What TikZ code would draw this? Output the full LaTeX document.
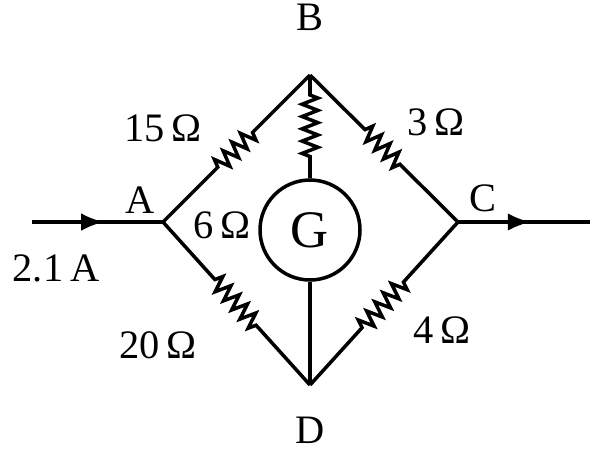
\documentclass[tikz,border=0pt]{standalone}
\usepackage{fontspec}
\setmainfont{Liberation Serif}
\usetikzlibrary{decorations.pathmorphing,decorations.markings,arrows.meta}
\tikzset{
  wire/.style={line width=2pt},
  res/.style={wire,decorate,decoration={zigzag,amplitude=4.5pt,segment length=7pt,
     pre length=#1,post length=#1}},
  res/.default=1.55cm,
  flow/.style={wire,postaction={decorate},decoration={markings,
     mark=at position 0.55 with {\arrow{Latex[length=13pt,width=10pt]}}}},
  lbl/.style={font=\fontsize{23}{25}\selectfont,inner sep=0pt}
}
\begin{document}
\begin{tikzpicture}[x=0.02cm,y=-0.02cm]
	\useasboundingbox (0,0) rectangle (601,451);
	%
	%  JUNCTIONS
	%
	\coordinate (A) at (163,222);
	\coordinate (B) at (310,75);
	\coordinate (C) at (458,222);
	\coordinate (D) at (310,385);
	\coordinate (in) at (32,222);
	\coordinate (out) at (590,222);
	\node[circle,draw,line width=2pt,minimum size=2cm,lbl,font=\fontsize{30}{32}\selectfont] (G) at (310,230) {G};
	%
	%  BRANCHES
	%
	\draw[flow] (in) -- (A);
	\draw[flow] (C) -- (out);
	\draw[res] (A) -- (B);
	\draw[res] (B) -- (C);
	\draw[res] (A) -- (D);
	\draw[res] (D) -- (C);
	\draw[res=0.4cm] (B) -- (G.north);
	\draw[wire] (G.south) -- (D);
	%
	%  LABELS
	%
	\node[lbl] (lA) at (140,200) {A};
	\node[lbl] (lB) at (310,17) {B};
	\node[lbl] (lC) at (483,198) {C};
	\node[lbl] (lD) at (310,430) {D};
	\node[lbl] (r1) at (163,128) {15\,Ω};
	\node[lbl] (r2) at (436,122) {3\,Ω};
	\node[lbl] (r3) at (222,225) {6\,Ω};
	\node[lbl] (r4) at (158,345) {20\,Ω};
	\node[lbl] (r5) at (442,330) {4\,Ω};
	\node[lbl] (cur) at (56,268) {2.1\,A};
\end{tikzpicture}
\end{document}
